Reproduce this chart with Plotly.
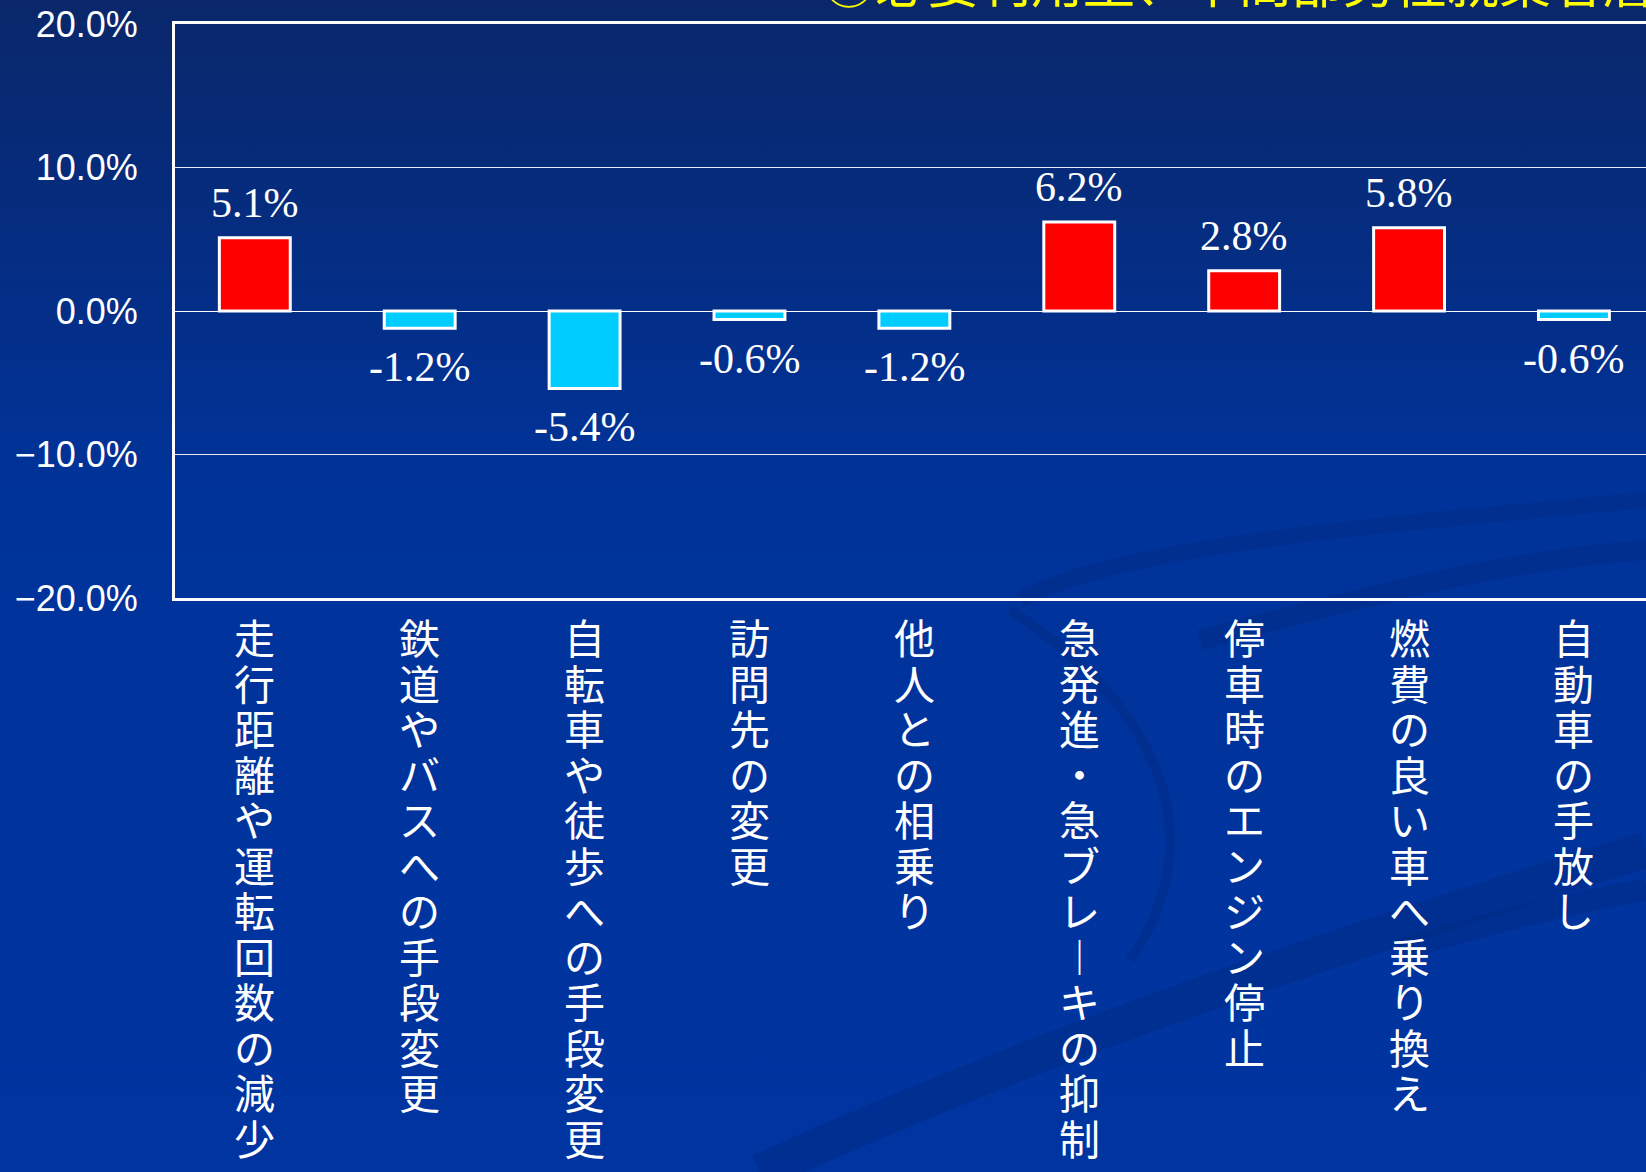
import base64
import plotly.graph_objects as go

# データ
categories = ["走行距離や運転回数の減少", "鉄道やバスへの手段変更", "自転車や徒歩への手段変更",
              "訪問先の変更", "他人との相乗り", "急発進・急ブレーキの抑制",
              "停車時のエンジン停止", "燃費の良い車へ乗り換え", "自動車の手放し"]
values = [5.1, -1.2, -5.4, -0.6, -1.2, 6.2, 2.8, 5.8, -0.6]
tick_vals = [-20, -10, 0, 10, 20]
tick_text = ["−20.0%", "−10.0%", "0.0%", "10.0%", "20.0%"]
title_text = "⑥必要利用型、中間部男性就業者層"

W, H = 1646, 1172
L, R, T, B = 175, 0, 24, 574

colors = ["#FF0000" if v > 0 else "#00CCFF" for v in values]

# 背景のグラデーションと薄い曲線（SVGを画像として敷く）
svg = f'''<svg xmlns="http://www.w3.org/2000/svg" width="{W}" height="{H}" viewBox="0 0 {W} {H}">
<defs><linearGradient id="g" x1="0" y1="0" x2="0" y2="1">
<stop offset="0" stop-color="#0a276a"/><stop offset="0.42" stop-color="#00339a"/>
<stop offset="1" stop-color="#0034a0"/></linearGradient></defs>
<rect width="{W}" height="{H}" fill="url(#g)"/>
<g fill="none" stroke="#00287a" stroke-opacity="0.35">
<path d="M760 1172 C 1050 1040, 1350 940, 1646 850" stroke-width="36"/>
<path d="M1020 600 C 1120 545, 1380 525, 1646 500" stroke-width="16"/>
<path d="M1010 610 C 1150 700, 1220 830, 1130 960" stroke-width="10"/>
<path d="M1200 640 C 1350 600, 1500 560, 1646 550" stroke-width="20"/>
<path d="M1400 950 C 1500 920, 1580 900, 1646 890" stroke-width="22"/>
</g></svg>'''
bg_src = "data:image/svg+xml;base64," + base64.b64encode(svg.encode("utf-8")).decode()

pw, ph = W - L - R, H - T - B

fig = go.Figure()
fig.add_trace(go.Bar(x=categories, y=values, width=0.43,
                     marker=dict(color=colors, line=dict(color="white", width=3)),
                     showlegend=False, hoverinfo="skip"))

ann = []
# 値ラベル
for c, v in zip(categories, values):
    ann.append(dict(x=c, y=v, xref="x", yref="y", text=f"{v:.1f}%", showarrow=False,
                    yanchor="bottom" if v > 0 else "top", yshift=10 if v > 0 else -14,
                    font=dict(family="Liberation Serif", size=42, color="white")))

# 縦書きの項目ラベル（1文字ずつ）
pitch = 45.5
for c in categories:
    for j, ch in enumerate(c):
        if ch == "ー":
            ch = "︱"
        ann.append(dict(x=c, y=0, xref="x", yref="paper", text=ch, showarrow=False,
                        xanchor="center", yanchor="top", yshift=-(6 + j * pitch),
                        font=dict(family="Noto Sans CJK JP", size=41, color="white")))

# タイトル（上端で切れている）
ann.append(dict(x=0.439, y=1, xref="paper", yref="paper", text=title_text, showarrow=False,
                xanchor="left", yanchor="bottom", yshift=4,
                font=dict(family="Noto Sans CJK JP", size=52, color="#FFFF00")))

fig.update_layout(
    width=W, height=H,
    margin=dict(l=L, r=R, t=T, b=B),
    paper_bgcolor="#00339a",
    plot_bgcolor="rgba(0,0,0,0)",
    annotations=ann,
    images=[dict(source=bg_src, xref="paper", yref="paper",
                 x=-L / pw, y=1 + T / ph, sizex=W / pw, sizey=H / ph,
                 xanchor="left", yanchor="top", sizing="stretch", layer="below")],
    xaxis=dict(range=[-0.484, 8.437], showticklabels=False, showgrid=False,
               showline=True, linecolor="white", linewidth=3, mirror=True, zeroline=False),
    yaxis=dict(range=[-20, 20], tickvals=tick_vals, ticktext=tick_text,
               showline=True, linecolor="white", linewidth=3,
               showgrid=True, gridcolor="rgba(255,255,255,0.9)", gridwidth=1,
               zeroline=True, zerolinecolor="white", zerolinewidth=1,
               ticklabelstandoff=27,
               tickfont=dict(family="Liberation Sans", size=36, color="white")),
)

fig.write_html("out.html", config={"displayModeBar": False},
               post_script="document.body.style.margin='0';")
